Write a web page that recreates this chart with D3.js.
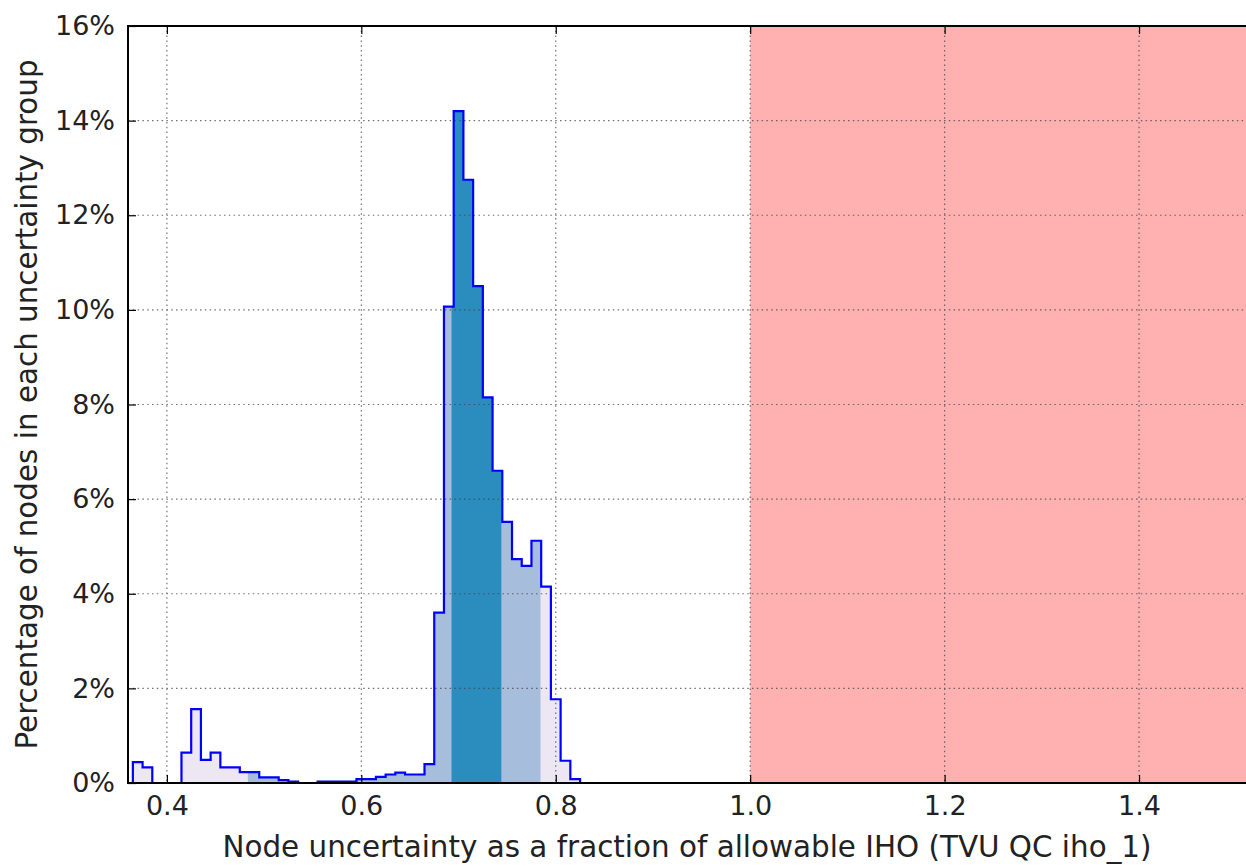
<!DOCTYPE html>
<html>
<head>
<meta charset="utf-8">
<script src="https://cdn.jsdelivr.net/npm/d3@7"></script>
<style>
  body { margin: 0; background: #fff; }
  svg { display: block; font-family: "DejaVu Sans", sans-serif; }
</style>
</head>
<body>
<svg id="chart" width="1246" height="867"></svg>
<script>
// histogram bins: left edge of first bin and width (fraction of allowable IHO)
const binStart = 0.365;
const binWidth = 0.01;
// percentage of nodes per bin
const pctValues = [
  0.44, 0.33, 0, 0, 0, 0.64, 1.56, 0.49, 0.64, 0.33,
  0.33, 0.23, 0.23, 0.12, 0.12, 0.06, 0.03, 0, 0, 0.03,
  0.03, 0.03, 0.03, 0.08, 0.08, 0.13, 0.18, 0.22, 0.18, 0.18,
  0.40, 3.6, 10.07, 14.2, 12.75, 10.5, 8.15, 6.6, 5.52, 4.73,
  4.59, 5.12, 4.15, 1.77, 0.47, 0.08
];
// shaded bands under the histogram
const bandNames = ['outer', 'middle', 'inner'];
const bandFrom = [0.36, 0.4833, 0.6928];
const bandTo = [0.83, 0.7843, 0.744];
const bandColors = ['#ece7f2', '#a6bddb', '#2b8cbe'];
// anything above the allowable limit is flagged
const allowableLimit = 1.0;

const xTicks = [0.4, 0.6, 0.8, 1.0, 1.2, 1.4];
const yTicks = [0, 2, 4, 6, 8, 10, 12, 14, 16];

const plotLeft = 128, plotRight = 1246, plotTop = 26, plotBottom = 783;

const svg = d3.select('#chart');
const x = d3.scaleLinear().domain([0.36, 1.51]).range([plotLeft, plotRight]);
const y = d3.scaleLinear().domain([0, 16]).range([plotBottom, plotTop]);

// step points: each bin value repeated, closing at the last edge
const steps = pctValues.map((v, i) => ({ x: binStart + i * binWidth, v: v }));
steps.push({ x: binStart + pctValues.length * binWidth, v: 0 });

// limit span
svg.append('rect')
  .attr('x', x(allowableLimit)).attr('y', plotTop)
  .attr('width', plotRight - x(allowableLimit)).attr('height', plotBottom - plotTop)
  .attr('fill', '#ffb0b0');

// fills, clipped to the histogram area
const area = d3.area().curve(d3.curveStepAfter)
  .x(d => x(d.x)).y0(y(0)).y1(d => y(d.v));
svg.append('clipPath').attr('id', 'histClip')
  .append('path').attr('d', area(steps));

svg.append('g').attr('clip-path', 'url(#histClip)')
  .selectAll('rect').data(bandNames).join('rect')
  .attr('x', (d, i) => x(bandFrom[i]))
  .attr('width', (d, i) => x(bandTo[i]) - x(bandFrom[i]))
  .attr('y', plotTop).attr('height', plotBottom - plotTop)
  .attr('fill', (d, i) => bandColors[i]);

// dotted grid
const grid = svg.append('g').attr('stroke', '#444').attr('stroke-width', 1.2)
  .attr('stroke-dasharray', '1.5,3.3').attr('opacity', 0.75);
grid.selectAll('.gx').data(xTicks).join('line').attr('class', 'gx')
  .attr('x1', d => x(d)).attr('x2', d => x(d)).attr('y1', plotTop).attr('y2', plotBottom);
grid.selectAll('.gy').data(yTicks.slice(1, -1)).join('line').attr('class', 'gy')
  .attr('x1', plotLeft).attr('x2', plotRight).attr('y1', d => y(d)).attr('y2', d => y(d));

// histogram outline
const line = d3.line().curve(d3.curveStepAfter).x(d => x(d.x)).y(d => y(d.v));
svg.append('path')
  .attr('d', line([{ x: binStart, v: 0 }].concat(steps)))
  .attr('fill', 'none').attr('stroke', '#0000ff').attr('stroke-width', 2.2);

// axes: inward ticks in matplotlib style
const xAxis = svg.append('g').attr('transform', `translate(0,${plotBottom})`)
  .call(d3.axisBottom(x).tickValues(xTicks).tickSizeInner(-8).tickSizeOuter(0)
    .tickFormat(d3.format('.1f')));
const yAxis = svg.append('g').attr('transform', `translate(${plotLeft},0)`)
  .call(d3.axisLeft(y).tickValues(yTicks).tickSizeInner(-8).tickSizeOuter(0)
    .tickFormat(d => d + '%'));
const topAxis = svg.append('g').attr('transform', `translate(0,${plotTop})`)
  .call(d3.axisTop(x).tickValues(xTicks).tickSizeInner(-8).tickSizeOuter(0).tickFormat(''));

[xAxis, yAxis, topAxis].forEach(a => {
  a.select('.domain').remove();
  a.selectAll('line').attr('stroke', '#000').attr('stroke-width', 1.2);
  a.selectAll('text').attr('font-size', 27).attr('fill', '#222')
    .attr('font-family', '"DejaVu Sans", sans-serif');
});
yAxis.selectAll('text').attr('x', -13);
xAxis.selectAll('text').attr('y', 13).attr('dy', '0.71em');

// frame (right spine falls outside the crop)
svg.append('path')
  .attr('d', `M${plotRight},${plotTop}H${plotLeft}V${plotBottom}H${plotRight}`)
  .attr('fill', 'none').attr('stroke', '#000').attr('stroke-width', 2);

// axis titles
svg.append('text')
  .attr('x', (plotLeft + plotRight) / 2).attr('y', 857)
  .attr('text-anchor', 'middle').attr('font-size', 29.4).attr('fill', '#222')
  .text('Node uncertainty as a fraction of allowable IHO (TVU QC iho_1)');
svg.append('text')
  .attr('transform', `translate(37,${(plotTop + plotBottom) / 2}) rotate(-90)`)
  .attr('text-anchor', 'middle').attr('font-size', 29.4).attr('fill', '#222')
  .text('Percentage of nodes in each uncertainty group');
</script>
</body>
</html>
